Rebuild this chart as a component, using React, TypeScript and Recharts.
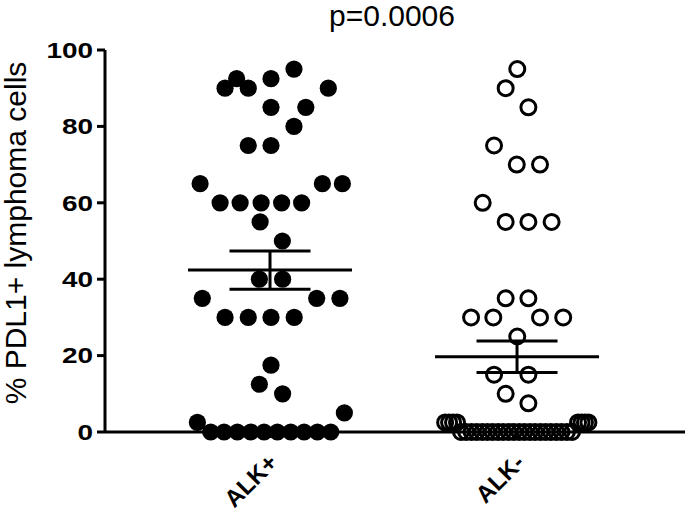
import React from 'react';
import { ScatterChart, Scatter, XAxis, YAxis, ReferenceLine } from 'recharts';

// Categories and axis ticks
const categories = ['ALK+', 'ALK-'];
const yTicks = [0, 20, 40, 60, 80, 100];
const pValueText = 'p=0.0006';
const yLabel = '% PDL1+ lymphoma cells';

// ALK+ (filled) : x = group position (1) + jitter, y = % PDL1+
const alkPosX = [
  1.097,
  0.865, 1.004,
  0.818, 0.912, 1.236,
  1.004, 1.145,
  1.097,
  0.912, 1.004,
  0.717, 1.212, 1.293,
  0.798, 0.879, 0.964, 1.047, 1.128,
  0.96,
  1.05,
  0.957, 1.051,
  0.726, 1.189, 1.283,
  0.818, 0.912, 1.004, 1.098,
  1.004,
  0.957,
  1.051,
  1.301,
  0.706,
  0.76, 0.814, 0.868, 0.922, 0.976, 1.03, 1.084, 1.138, 1.192, 1.246,
];
const alkPosY = [
  95,
  92.5, 92.5,
  90, 90, 90,
  85, 85,
  80,
  75, 75,
  65, 65, 65,
  60, 60, 60, 60, 60,
  55,
  50,
  40, 40,
  35, 35, 35,
  30, 30, 30, 30,
  17.5,
  12.5,
  10,
  5,
  2.5,
  0, 0, 0, 0, 0, 0, 0, 0, 0, 0,
];

// ALK- (open) : x = group position (2) + jitter
const alkNegX = [
  2.001, 1.954, 2.046, 1.907, 1.999, 2.093, 1.861, 1.954, 2.046, 2.14,
  1.954, 2.046, 1.814, 1.904, 2.093, 2.187, 2.001, 1.907, 2.046, 1.954, 2.046,
  1.709, 1.725, 1.741, 1.757,
  2.247, 2.261, 2.275, 2.289,
  1.773, 1.794, 1.816, 1.837, 1.859, 1.88, 1.901, 1.923, 1.944, 1.966, 1.987,
  2.009, 2.03, 2.052, 2.073, 2.095, 2.116, 2.137, 2.159, 2.18, 2.202, 2.223,
];
const alkNegY = [
  95, 90, 85, 75, 70, 70, 60, 55, 55, 55,
  35, 35, 30, 30, 30, 30, 25, 15, 15, 10, 7.5,
  2.5, 2.5, 2.5, 2.5,
  2.5, 2.5, 2.5, 2.5,
  0, 0, 0, 0, 0, 0, 0, 0, 0, 0, 0,
  0, 0, 0, 0, 0, 0, 0, 0, 0, 0, 0,
];

// Mean and SEM
const groupPos = [1, 2];
const groupMean = [42.4, 19.7];
const groupSem = [5.0, 4.15];

const posData = alkPosX.map((x, i) => ({ x, y: alkPosY[i] }));
const negData = alkNegX.map((x, i) => ({ x, y: alkNegY[i] }));

const MEAN_HALF = 0.332;
const CAP_HALF = 0.164;

const FilledDot = (p: any) => <circle cx={p.cx} cy={p.cy} r={8.6} fill="#000" />;
const OpenDot = (p: any) => (
  <circle cx={p.cx} cy={p.cy} r={7.5} fill="none" stroke="#000" strokeWidth={3} />
);

const XTick = (p: any) => {
  const { x, y, payload } = p;
  const label = categories[Math.round(payload.value) - 1];
  return (
    <g transform={`translate(${x + 9},${y + 24})`}>
      <text
        transform="rotate(-45)"
        textAnchor="end"
        fill="#000"
        style={{ fontSize: 24, fontWeight: 700, fontFamily: "'Liberation Sans', Arial, sans-serif" }}
      >
        {label}
      </text>
    </g>
  );
};

// Wide bold tick digits (the reference uses a broad bold face)
const YTick = (p: any) => {
  const { x, y, payload } = p;
  return (
    <g transform={`translate(${x},${y}) scale(1.3,1)`}>
      <text
        x={0}
        y={0}
        dy="0.36em"
        textAnchor="end"
        fill="#000"
        style={{ fontSize: 21.5, fontWeight: 700, fontFamily: "'Liberation Sans', Arial, sans-serif" }}
      >
        {payload.value}
      </text>
    </g>
  );
};

const YLabel = () => (
  <text
    x={26}
    y={233}
    transform="rotate(-90, 26, 233)"
    textAnchor="middle"
    fill="#000"
    style={{ fontSize: 30, fontFamily: "'Liberation Sans', Arial, sans-serif" }}
  >
    {yLabel}
  </text>
);

export default function App() {
  const lines: any[] = [];
  groupPos.forEach((g, i) => {
    const m = groupMean[i];
    const s = groupSem[i];
    lines.push(
      <ReferenceLine
        key={`m${i}`}
        segment={[{ x: g - MEAN_HALF, y: m }, { x: g + MEAN_HALF, y: m }]}
        stroke="#000"
        strokeWidth={3}
        ifOverflow="visible"
      />,
      <ReferenceLine
        key={`v${i}`}
        segment={[{ x: g, y: m - s }, { x: g, y: m + s }]}
        stroke="#000"
        strokeWidth={3}
        ifOverflow="visible"
      />,
      <ReferenceLine
        key={`u${i}`}
        segment={[{ x: g - CAP_HALF, y: m + s }, { x: g + CAP_HALF, y: m + s }]}
        stroke="#000"
        strokeWidth={3}
        ifOverflow="visible"
      />,
      <ReferenceLine
        key={`l${i}`}
        segment={[{ x: g - CAP_HALF, y: m - s }, { x: g + CAP_HALF, y: m - s }]}
        stroke="#000"
        strokeWidth={3}
        ifOverflow="visible"
      />
    );
  });

  return (
    <div style={{ width: 685, height: 522, background: '#fff', fontFamily: "'Liberation Sans', Arial, sans-serif" }}>
      <style>{'body{margin:0;background:#fff}'}</style>
      <ScatterChart width={685} height={522} margin={{ top: 50, right: 0, bottom: 30, left: 0 }}>
        <XAxis
          type="number"
          dataKey="x"
          domain={[0.332, 2.68]}
          ticks={groupPos}
          height={60}
          axisLine={{ stroke: '#000', strokeWidth: 3 }}
          tickLine={{ stroke: '#000', strokeWidth: 3 }}
          tickSize={6}
          tickMargin={2}
          tick={<XTick />}
          interval={0}
        />
        <YAxis
          type="number"
          dataKey="y"
          domain={[0, 100]}
          ticks={yTicks}
          width={105}
          axisLine={{ stroke: '#000', strokeWidth: 3 }}
          tickLine={{ stroke: '#000', strokeWidth: 3 }}
          tickSize={8}
          tickMargin={4}
          tick={<YTick />}
          interval={0}
        />
        <Scatter data={posData} shape={FilledDot} isAnimationActive={false} />
        <Scatter data={negData} shape={OpenDot} isAnimationActive={false} />
        {lines}
        <text
          x={392}
          y={26}
          textAnchor="middle"
          fill="#000"
          style={{ fontSize: 30, fontFamily: "'Liberation Sans', Arial, sans-serif" }}
        >
          {pValueText}
        </text>
        <YLabel />
      </ScatterChart>
    </div>
  );
}
